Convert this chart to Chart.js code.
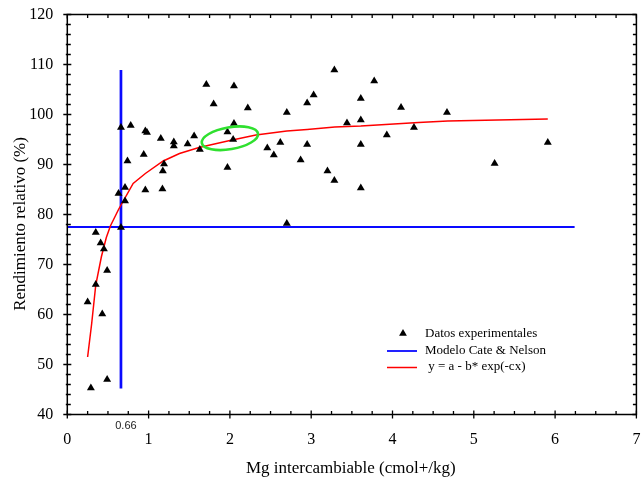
<!DOCTYPE html>
<html>
<head>
<meta charset="utf-8">
<script src="https://cdn.jsdelivr.net/npm/chart.js@4/dist/chart.umd.min.js"></script>
<style>
  html, body { margin: 0; padding: 0; background: #fff; }
  #wrap { width: 641px; height: 481px; }
</style>
</head>
<body>
<div id="wrap"><canvas id="c" width="641" height="481"></canvas></div>
<script>
// Experimental yield data: Mg (cmol+/kg) vs relative yield (%)
const mgValues = [0.25, 0.29, 0.35, 0.35, 0.41, 0.43, 0.45, 0.49, 0.49, 0.66,
  0.63, 0.71, 0.71, 0.66, 0.74, 0.78, 0.94, 0.96, 0.96, 0.98,
  1.15, 1.17, 1.175, 1.19, 1.31, 1.31, 1.48, 1.56, 1.63, 1.71,
  1.80, 1.97, 1.97, 2.04, 2.05, 2.05, 2.22, 2.46, 2.54, 2.62,
  2.70, 2.70, 2.87, 2.95, 2.95, 3.03, 3.20, 3.285, 3.285, 3.44,
  3.61, 3.61, 3.61, 3.61, 3.775, 3.93, 4.105, 4.264, 4.67, 5.256, 5.91];
const yieldValues = [62.5, 45.3, 76.4, 66.0, 74.3, 60.1, 73.1, 68.8, 47.0, 77.4,
  84.2, 82.7, 85.4, 97.4, 90.7, 97.8, 92.0, 84.9, 96.7, 96.4,
  95.2, 85.1, 88.7, 90.1, 94.5, 93.7, 94.1, 95.7, 93.0, 106.0,
  102.1, 96.5, 89.4, 95.0, 98.2, 105.7, 101.3, 93.3, 91.9, 94.4,
  100.4, 78.2, 90.9, 102.3, 94.0, 103.9, 88.7, 108.9, 86.8, 98.3,
  103.2, 98.9, 94.0, 85.3, 106.7, 95.9, 101.4, 97.4, 100.4, 90.2, 94.4];

// Fitted curve y = a - b*exp(-cx), as plotted
const curveX = [0.25, 0.30, 0.35, 0.42, 0.48, 0.53, 0.63, 0.81, 0.96, 1.18, 1.38,
  1.62, 2.0, 2.32, 2.70, 2.95, 3.29, 3.61, 4.32, 4.68, 5.91];
const curveY = [51.5, 58.2, 65.9, 71.6, 75.4, 77.7, 81.0, 86.2, 88.2, 90.7, 92.2,
  93.4, 94.8, 95.9, 96.7, 97.0, 97.5, 97.7, 98.4, 98.7, 99.1];

// Cate & Nelson model: critical level and yield threshold
const criticalMg = 0.66;
const criticalLineY = [45.2, 108.9];
const thresholdYield = 77.5;
const thresholdLineX = [0, 6.24];

// Axis ticks
const xTickLabels = ['0', '1', '2', '3', '4', '5', '6', '7'];
const yTickLabels = ['40', '50', '60', '70', '80', '90', '100', '110', '120'];

// Highlighted region around Mg ≈ 2
const ellipseCenter = [2.0, 95.25];

const labels = {
  points: 'Datos experimentales',
  model: 'Modelo Cate & Nelson',
  curve: ' y = a - b* exp(-cx)',
  xTitle: 'Mg intercambiable (cmol+/kg)',
  yTitle: 'Rendimiento relativo (%)',
  critical: '0.66'
};

const SERIF = '"Liberation Serif", "Times New Roman", serif';
const SANS = '"Liberation Sans", Arial, sans-serif';
const BLUE = '#0a0aff';
const RED = '#ff0000';

const pointData = mgValues.map((x, i) => ({ x, y: yieldValues[i] }));
const curveData = curveX.map((x, i) => ({ x, y: curveY[i] }));

const framePlugin = {
  id: 'frame',
  afterDatasetsDraw(chart) {
    const { ctx, chartArea: a, scales: { x, y } } = chart;
    ctx.save();

    // green highlight ellipse
    ctx.strokeStyle = '#2fe02f';
    ctx.lineWidth = 2.6;
    ctx.beginPath();
    ctx.ellipse(x.getPixelForValue(ellipseCenter[0]), y.getPixelForValue(ellipseCenter[1]),
      28.5, 11, -0.17, 0, Math.PI * 2);
    ctx.stroke();

    // frame
    ctx.strokeStyle = '#000';
    ctx.lineWidth = 1.5;
    ctx.strokeRect(a.left, a.top, a.right - a.left, a.bottom - a.top);

    // ticks on all four sides
    ctx.lineWidth = 1.3;
    ctx.beginPath();
    for (let i = 0; i <= 28; i++) {
      const v = i * 0.25;
      const px = x.getPixelForValue(v);
      const major = i % 4 === 0;
      ctx.moveTo(px, a.bottom + (major ? 4 : 0.5));
      ctx.lineTo(px, a.bottom - (major ? 4 : 3.5));
      ctx.moveTo(px, a.top);
      ctx.lineTo(px, a.top + (major ? 4 : 3.5));
    }
    for (let i = 0; i <= 40; i++) {
      const v = 40 + i * 2;
      const py = y.getPixelForValue(v);
      const major = i % 5 === 0;
      ctx.moveTo(a.left - (major ? 4 : 1.5), py);
      ctx.lineTo(a.left + (major ? 4 : 3.5), py);
      ctx.moveTo(a.right, py);
      ctx.lineTo(a.right - (major ? 4 : 3.5), py);
    }
    ctx.stroke();

    // critical level label
    ctx.fillStyle = '#222';
    ctx.font = '11px ' + SANS;
    ctx.textAlign = 'center';
    ctx.textBaseline = 'middle';
    ctx.fillText(labels.critical, x.getPixelForValue(criticalMg) + 5, 426);

    // axis titles
    ctx.fillStyle = '#000';
    ctx.font = '17px ' + SERIF;
    ctx.textBaseline = 'alphabetic';
    ctx.fillText(labels.xTitle, (a.left + a.right) / 2 - 1, 473);
    ctx.save();
    ctx.translate(25, 224);
    ctx.rotate(-Math.PI / 2);
    ctx.fillText(labels.yTitle, 0, 0);
    ctx.restore();

    // legend
    ctx.font = '13px ' + SERIF;
    ctx.textAlign = 'left';
    ctx.textBaseline = 'middle';
    ctx.fillStyle = '#000';
    const tr = 4.5, tx = 403, ty = 333.5;
    ctx.beginPath();
    ctx.moveTo(tx, ty - tr);
    ctx.lineTo(tx + tr * 0.866, ty + tr / 2);
    ctx.lineTo(tx - tr * 0.866, ty + tr / 2);
    ctx.closePath();
    ctx.fill();
    ctx.fillText(labels.points, 425, 334);
    ctx.strokeStyle = BLUE;
    ctx.lineWidth = 1.8;
    ctx.beginPath(); ctx.moveTo(387, 351); ctx.lineTo(417, 351); ctx.stroke();
    ctx.fillText(labels.model, 425, 350.5);
    ctx.strokeStyle = RED;
    ctx.lineWidth = 1.5;
    ctx.beginPath(); ctx.moveTo(387, 367.5); ctx.lineTo(417, 367.5); ctx.stroke();
    ctx.fillText(labels.curve, 425, 367);
    ctx.restore();
  }
};

new Chart(document.getElementById('c'), {
  type: 'scatter',
  data: {
    datasets: [
      {
        label: labels.points,
        data: pointData,
        pointStyle: 'triangle',
        pointRadius: 4.6,
        pointHoverRadius: 4.6,
        backgroundColor: '#000',
        borderColor: '#000',
        borderWidth: 0,
        showLine: false
      },
      {
        label: labels.curve,
        data: curveData,
        showLine: true,
        borderColor: RED,
        borderWidth: 1.5,
        pointRadius: 0,
        tension: 0,
        fill: false
      },
      {
        label: labels.model,
        data: criticalLineY.map(v => ({ x: criticalMg, y: v })),
        showLine: true,
        borderColor: BLUE,
        borderWidth: 2.7,
        pointRadius: 0,
        fill: false
      },
      {
        label: labels.model,
        data: thresholdLineX.map(v => ({ x: v, y: thresholdYield })),
        showLine: true,
        borderColor: BLUE,
        borderWidth: 1.8,
        pointRadius: 0,
        fill: false
      }
    ]
  },
  options: {
    responsive: false,
    animation: false,
    events: [],
    layout: { padding: { top: 14.5, right: 2, left: 0, bottom: 0 } },
    plugins: {
      legend: { display: false },
      tooltip: { enabled: false },
      title: { display: false }
    },
    scales: {
      x: {
        type: 'linear',
        min: 0,
        max: 7,
        grid: { display: false, drawTicks: false },
        border: { display: false },
        ticks: {
          stepSize: 1,
          autoSkip: false,
          maxRotation: 0,
          padding: 16,
          color: '#000',
          font: { family: SERIF, size: 16 },
          callback: (v) => xTickLabels[v] ?? ''
        },
        afterFit(scale) {
          scale.height = 66.5;
          scale.paddingLeft = 0;
          scale.paddingRight = 0;
        }
      },
      y: {
        type: 'linear',
        min: 40,
        max: 120,
        grid: { display: false, drawTicks: false },
        border: { display: false },
        ticks: {
          stepSize: 10,
          autoSkip: false,
          padding: 14,
          color: '#000',
          font: { family: SERIF, size: 16 },
          callback: (v) => yTickLabels[(v - 40) / 10] ?? ''
        },
        afterFit(scale) {
          scale.width = 67.3;
          scale.paddingTop = 0;
          scale.paddingBottom = 0;
        }
      }
    }
  },
  plugins: [framePlugin]
});
</script>
</body>
</html>
